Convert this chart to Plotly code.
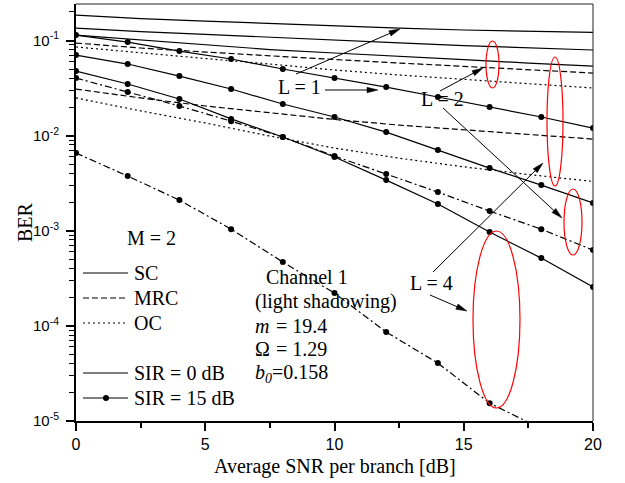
import math
import plotly.graph_objects as go

# ---------------- data ----------------
snr_marks = [0, 2, 4, 6, 8, 10, 12, 14, 16, 18, 20]
snr_lines = [0, 2.5, 5, 7.5, 10, 12.5, 15, 17.5, 20]

# SIR = 0 dB curves (no markers)
ber_L1_sir0 = [0.185, 0.170, 0.160, 0.151, 0.142, 0.135, 0.129, 0.125, 0.122]
ber_sc_L2_sir0 = [0.135, 0.124, 0.116, 0.108, 0.100, 0.0946, 0.0886, 0.0834, 0.0795]
ber_sc_L4_sir0 = [0.114, 0.101, 0.0908, 0.0804, 0.0739, 0.0687, 0.0631, 0.0580, 0.0539]
ber_mrc_L2_sir0 = [0.0941, 0.0834, 0.0757, 0.0687, 0.0631, 0.0580, 0.0533, 0.0490, 0.0455]
ber_oc_L2_sir0 = [0.0855, 0.0739, 0.0647, 0.0566, 0.0490, 0.0434, 0.0389, 0.0349, 0.0317]
ber_mrc_L4_sir0 = [0.0309, 0.0249, 0.0205, 0.0173, 0.0148, 0.0129, 0.0115, 0.0102, 0.0092]
ber_oc_L4_sir0 = [0.0249, 0.0182, 0.0136, 0.0099, 0.0074, 0.0058, 0.0047, 0.0039, 0.0033]

# SIR = 15 dB curves (with markers)
ber_L1_sir15 = [0.114, 0.0964, 0.0775, 0.0639, 0.0502, 0.0403, 0.0324, 0.0255, 0.0200, 0.0157, 0.0120]
ber_sc_L2_sir15 = [0.0704, 0.0566, 0.0423, 0.0309, 0.0215, 0.0157, 0.0109, 0.00706, 0.00456, 0.00302, 0.00196]
ber_sc_L4_sir15 = [0.0478, 0.0349, 0.0243, 0.0150, 0.00967, 0.00596, 0.00341, 0.00191, 0.000969, 0.000516, 0.000256]
ber_div_L2_sir15 = [0.0403, 0.0287, 0.0205, 0.0142, 0.00967, 0.00610, 0.00395, 0.00255, 0.00161, 0.00104, 0.000626]
ber_div_L4_sir15 = [0.00656, 0.00376, 0.00210, 0.00104, 0.000469, 0.000221, 0.0000861, 0.0000406, 0.0000154, 0.0000083]

y_tick_vals = [1e-5, 1e-4, 1e-3, 1e-2, 1e-1]
y_tick_text = ["10<sup>-5</sup>", "10<sup>-4</sup>", "10<sup>-3</sup>", "10<sup>-2</sup>", "10<sup>-1</sup>"]
x_tick_vals = [0, 5, 10, 15, 20]

# ---------------- styling ----------------
SERIF = "Liberation Serif, Times New Roman, serif"
SANS = "Liberation Sans, Arial, sans-serif"
FS = 20
LW = 1.2
DASH = "6px,3px"
DOT = "2px,3px"
DASHDOT = "7px,3px,2px,3px"

W, H = 625, 483
X0, X1, Y0, Y1 = 76, 593, 4, 421


def px(x):
    return (x - X0) / (X1 - X0)


def py(y):
    return (Y1 - y) / (Y1 - Y0)


fig = go.Figure()


def add_line(x, y, dash, markers=False):
    fig.add_trace(go.Scatter(
        x=x, y=y,
        mode="lines+markers" if markers else "lines",
        line=dict(color="black", width=LW, dash=dash),
        marker=dict(color="black", size=6),
        showlegend=False, hoverinfo="skip"))


add_line(snr_lines, ber_L1_sir0, "solid")
add_line(snr_lines, ber_sc_L2_sir0, "solid")
add_line(snr_lines, ber_sc_L4_sir0, "solid")
add_line(snr_lines, ber_mrc_L2_sir0, DASH)
add_line(snr_lines, ber_oc_L2_sir0, DOT)
add_line(snr_lines, ber_mrc_L4_sir0, DASH)
add_line(snr_lines, ber_oc_L4_sir0, DOT)

add_line(snr_marks, ber_L1_sir15, "solid", True)
add_line(snr_marks, ber_sc_L2_sir15, "solid", True)
add_line(snr_marks, ber_sc_L4_sir15, "solid", True)
add_line(snr_marks, ber_div_L2_sir15, DASHDOT, True)
add_line(snr_marks[:len(ber_div_L4_sir15)], ber_div_L4_sir15, DASHDOT, True)

# minor ticks
y_minor = []
for e in range(-5, 0):
    for k in range(2, 10):
        y_minor.append(k * 10 ** e)

shapes = []
annotations = []

# frame top/right
shapes.append(dict(type="line", xref="paper", yref="paper", x0=0, x1=1, y0=1, y1=1,
                   line=dict(color="#222", width=1)))
shapes.append(dict(type="line", xref="paper", yref="paper", x0=1, x1=1, y0=0, y1=1,
                   line=dict(color="#222", width=1)))

# red ellipses (pixel boxes)
ellipses = [(486, 41, 499, 88), (547, 57, 563, 186), (564, 189, 582, 255), (473, 231, 520, 408)]
for (a, b, c, d) in ellipses:
    shapes.append(dict(type="circle", xref="paper", yref="paper",
                       x0=px(a), x1=px(c), y0=py(d), y1=py(b),
                       line=dict(color="red", width=1.2)))

# arrows (tail -> head, pixels)
arrows = [((296, 74), (400, 29)), ((325, 90), (378, 90)), ((440, 91), (483, 68)),
          ((443, 108), (562, 218)), ((433, 272), (543, 163)), ((430, 295), (467, 311))]
for (tx, ty), (hx, hy) in arrows:
    dx, dy = hx - tx, hy - ty
    dd = math.hypot(dx, dy)
    ux, uy = dx / dd, dy / dd
    nx, ny = -uy, ux
    hl, hw = 11, 2.8
    bx, by = hx - hl * ux, hy - hl * uy
    shapes.append(dict(type="line", xref="paper", yref="paper",
                       x0=px(tx), y0=py(ty), x1=px(bx), y1=py(by),
                       line=dict(color="black", width=1)))
    path = "M {} {} L {} {} L {} {} Z".format(
        px(hx), py(hy), px(bx + hw * nx), py(by + hw * ny), px(bx - hw * nx), py(by - hw * ny))
    shapes.append(dict(type="path", xref="paper", yref="paper", path=path,
                       fillcolor="black", line=dict(color="black", width=0.5)))

# legend samples
leg_rows = [(273, "solid", "SC"), (298, DASH, "MRC"), (323, DOT, "OC"),
            (373, "solid", "SIR = 0 dB"), (398, "solid", "SIR = 15 dB")]
for (yy, dsh, label) in leg_rows:
    shapes.append(dict(type="line", xref="paper", yref="paper",
                       x0=px(83), x1=px(128), y0=py(yy), y1=py(yy),
                       line=dict(color="black", width=LW, dash=dsh)))
    annotations.append(dict(x=px(132), y=py(yy), xref="paper", yref="paper", text=label,
                            showarrow=False, xanchor="left", yanchor="middle",
                            font=dict(family=SERIF, size=FS, color="black")))
shapes.append(dict(type="circle", xref="paper", yref="paper",
                   x0=px(103), x1=px(109), y0=py(401), y1=py(395),
                   fillcolor="black", line=dict(color="black", width=0)))


def txt(x, y, s, anchor="center", size=FS):
    annotations.append(dict(x=px(x), y=py(y), xref="paper", yref="paper", text=s,
                            showarrow=False, xanchor=anchor, yanchor="middle",
                            font=dict(family=SERIF, size=size, color="black")))


txt(299, 87, "L = 1")
txt(442, 99, "L = 2")
txt(431, 283, "L = 4")
txt(151, 238, "M = 2")
txt(264, 277, "Channel 1", "left")
txt(253, 301, "(light shadowing)", "left")
txt(253, 326, "<i>m</i>", "left")
txt(274, 326, "= 19.4", "left")
txt(253, 349, "\u03a9", "left")
txt(274, 349, "= 1.29", "left")
txt(253, 373, "<i>b</i><sub><i>0</i></sub>=0.158", "left")

# axis titles
txt(334.5, 466, "Average SNR per branch [dB]")
annotations.append(dict(x=px(25), y=py(222), xref="paper", yref="paper", text="BER",
                        showarrow=False, textangle=-90, xanchor="center", yanchor="middle",
                        font=dict(family=SERIF, size=FS, color="black")))

fig.update_layout(
    width=W, height=H,
    margin=dict(l=X0, r=W - X1, t=Y0, b=H - Y1, pad=0),
    paper_bgcolor="white", plot_bgcolor="white",
    showlegend=False, hovermode=False,
    shapes=shapes, annotations=annotations,
    xaxis=dict(range=[0, 20], tickvals=x_tick_vals, ticks="outside", ticklen=8, tickwidth=1.5,
               tickcolor="black", showline=True, linewidth=2, linecolor="black",
               showgrid=False, zeroline=False,
               tickfont=dict(family=SANS, size=16, color="black"),
               minor=dict(tickvals=[2.5, 7.5, 12.5, 17.5], ticks="outside", ticklen=5,
                          tickwidth=1.5, tickcolor="black", showgrid=False)),
    yaxis=dict(type="log", range=[-5, -0.616], tickvals=y_tick_vals, ticktext=y_tick_text,
               ticks="outside", ticklen=8, tickwidth=1.5, tickcolor="black",
               showline=True, linewidth=2, linecolor="black", showgrid=False, zeroline=False,
               tickfont=dict(family=SANS, size=15, color="black"), ticklabelstandoff=4,
               minor=dict(tickvals=y_minor, ticks="outside", ticklen=5, tickwidth=1.2,
                          tickcolor="black", showgrid=False)),
)

fig.write_html("out.html", config={"displayModeBar": False},
               post_script="document.body.style.margin='0px';")
